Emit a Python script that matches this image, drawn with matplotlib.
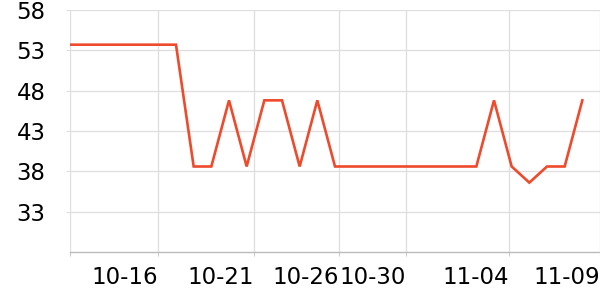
import matplotlib
matplotlib.use('Agg')
from matplotlib import pyplot as plt

# values, one point per day
values = [53.7, 53.7, 53.7, 53.7, 53.7, 53.7, 53.7,
          38.6, 38.6, 46.8, 38.6, 46.8, 46.8, 38.6, 46.8,
          38.6, 38.6, 38.6, 38.6, 38.6, 38.6, 38.6, 38.6, 38.6,
          46.8, 38.6, 36.6, 38.6, 38.6, 46.8]
tick_labels = ['10-16', '10-21', '10-26', '10-30', '11-04', '11-09']
tick_pos = [5, 10.4, 15.25, 19.0, 24.85, 30]
y_ticks = [33, 38, 43, 48, 53, 58]

fig = plt.figure(figsize=(6, 3), dpi=100)
ax = fig.add_axes([70 / 600, 48 / 300, 530 / 600, 242 / 300])

x = list(range(len(values)))
ax.plot(x, values, color='#ee4a2c', linewidth=1.9, solid_joinstyle='miter', zorder=3)

ax.set_xlim(0, 30)
ax.set_ylim(28, 58)
ax.set_yticks(y_ticks)
ax.set_yticklabels([str(v) for v in y_ticks])
ax.set_xticks([0] + tick_pos)
ax.set_xticklabels([''] + tick_labels, ha='right')

ax.grid(True, color='#dedede', linewidth=0.9)
for side in ['top', 'right', 'left']:
    ax.spines[side].set_visible(False)
ax.spines['bottom'].set_color('#bbbbbb')
ax.spines['bottom'].set_linewidth(1)

ax.tick_params(axis='y', length=3, color='#dedede', pad=14.5, labelsize=16.5)
ax.tick_params(axis='x', length=3, color='#cccccc', pad=7, labelsize=16.5)
ax.set_axisbelow(True)

plt.savefig('out.png', dpi=100)
